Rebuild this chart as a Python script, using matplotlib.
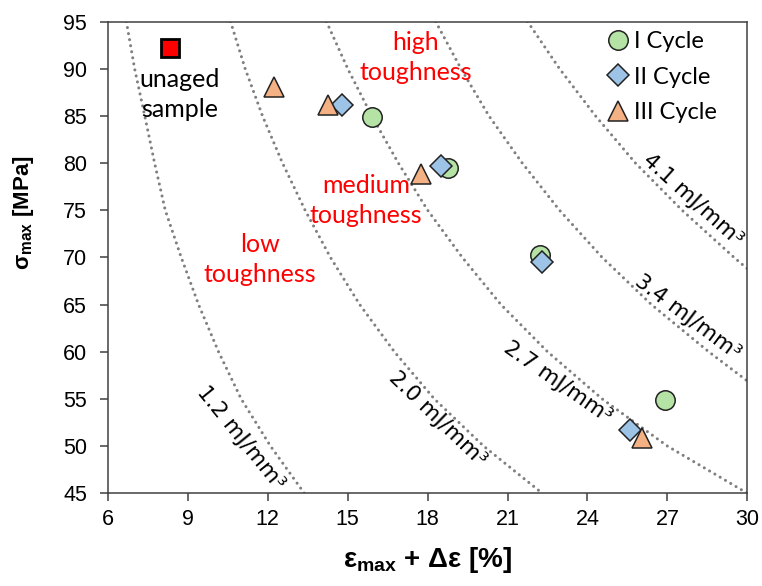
import matplotlib
matplotlib.use("Agg")
import matplotlib.pyplot as plt

# ---------------------------------------------------------------------------
# Data
# ---------------------------------------------------------------------------

cycle1_strain = [15.9, 18.75, 22.2, 26.9]
cycle1_stress = [84.9, 79.5, 70.3, 54.9]

cycle2_strain = [14.8, 18.5, 22.3, 25.6]
cycle2_stress = [86.1, 79.7, 69.5, 51.7]

cycle3_strain = [12.25, 14.25, 17.75, 26.05]
cycle3_stress = [88.1, 86.2, 78.8, 50.9]

unaged_strain = [8.34]
unaged_stress = [92.2]

# iso-toughness curves, digitised (strain %, stress MPa)
iso_12_strain = [6.69, 7.0, 7.38, 7.75, 8.15, 8.75, 9.4, 10.15, 11.0, 12.1, 13.37]
iso_12_stress = [95, 90, 85, 80, 75, 70, 65, 60, 55, 50, 45]

iso_20_strain = [10.6, 11.15, 11.8, 12.55, 13.4, 14.35, 15.45, 16.75, 18.25, 20.1, 22.3]
iso_20_stress = [95, 90, 85, 80, 75, 70, 65, 60, 55, 50, 45]

iso_27_strain = [14.2, 15.0, 15.9, 16.9, 18.0, 19.3, 20.75, 22.5, 24.55, 27.0, 30.0]
iso_27_stress = [95, 90, 85, 80, 75, 70, 65, 60, 55, 50, 45]

iso_34_strain = [18.3, 19.25, 20.3, 21.55, 22.95, 24.55, 26.4, 28.55, 30.0]
iso_34_stress = [95, 90, 85, 80, 75, 70, 65, 60, 56.9]

iso_41_strain = [21.75, 22.95, 24.3, 25.8, 27.55, 29.5, 30.0]
iso_41_stress = [95, 90, 85, 80, 75, 70, 68.8]

iso_labels = ["1.2 mJ/mm³", "2.0 mJ/mm³", "2.7 mJ/mm³", "3.4 mJ/mm³", "4.1 mJ/mm³"]

x_ticks = [6, 9, 12, 15, 18, 21, 24, 27, 30]
y_ticks = [45, 50, 55, 60, 65, 70, 75, 80, 85, 90, 95]

# ---------------------------------------------------------------------------
# Plot
# ---------------------------------------------------------------------------

TEXT_FONT = ["Lato", "DejaVu Sans"]
AXIS_COLOR = "#404040"
DOT_COLOR = "#7F7F7F"

plt.rcParams["font.family"] = ["Liberation Sans", "DejaVu Sans"]
plt.rcParams["mathtext.fontset"] = "custom"
plt.rcParams["mathtext.rm"] = "Liberation Sans"
plt.rcParams["mathtext.bf"] = "Liberation Sans:bold"

fig = plt.figure(figsize=(7.62, 5.86), dpi=100)
ax = fig.add_axes([0.1417, 0.1583, 0.8390, 0.8050])

curves = [
    (iso_12_strain, iso_12_stress),
    (iso_20_strain, iso_20_stress),
    (iso_27_strain, iso_27_stress),
    (iso_34_strain, iso_34_stress),
    (iso_41_strain, iso_41_stress),
]
for xs, ys in curves:
    ax.plot(xs, ys, color=DOT_COLOR, linewidth=2.2, linestyle=(0, (0.01, 2.0)),
            dash_capstyle="round", solid_joinstyle="round", zorder=1)

# curve labels: (x, y, rotation)
label_pos = [(11.0, 50.9, -51), (18.37, 52.9, -44), (22.9, 56.8, -35),
             (27.78, 63.65, -37), (27.97, 76.1, -42)]
for text, (lx, ly, rot) in zip(iso_labels, label_pos):
    ax.text(lx, ly, text, rotation=rot, rotation_mode="anchor", ha="center", va="center",
            fontsize=15.5, family=["DejaVu Sans"], color="black", zorder=2)

edge = "#222222"
ax.plot(cycle1_strain, cycle1_stress, "o", ms=14, mfc="#B5E2A5", mec=edge, mew=1.1,
        label="I Cycle", zorder=3)
ax.plot(cycle2_strain, cycle2_stress, "D", ms=11, mfc="#9DC3E6", mec=edge, mew=1.1,
        label="II Cycle", zorder=4)
ax.plot(cycle3_strain, cycle3_stress, "^", ms=14, mfc="#F4B183", mec=edge, mew=1.1,
        label="III Cycle", zorder=5)
ax.plot(unaged_strain, unaged_stress, "s", ms=13, mfc="#FF0000", mec="black", mew=2.0,
        zorder=5)

ax.text(8.69, 87.3, "unaged\nsample", ha="center", va="center", fontsize=18,
        family=TEXT_FONT, color="black", linespacing=1.38)
ax.text(17.55, 91.2, "high\ntoughness", ha="center", va="center", fontsize=18,
        family=TEXT_FONT, color="#FF0000", linespacing=1.38)
ax.text(15.69, 76.0, "medium\ntoughness", ha="center", va="center", fontsize=18,
        family=TEXT_FONT, color="#FF0000", linespacing=1.38)
ax.text(11.69, 69.8, "low\ntoughness", ha="center", va="center", fontsize=18,
        family=TEXT_FONT, color="#FF0000", linespacing=1.38)

ax.set_xlim(6, 30)
ax.set_ylim(45, 95)
ax.set_xticks(x_ticks)
ax.set_yticks(y_ticks)
ax.tick_params(axis="both", direction="out", length=6, width=1.1, color=AXIS_COLOR,
               labelsize=15.5, labelcolor="black")
ax.tick_params(axis="y", pad=9)
ax.tick_params(axis="x", pad=5)
for spine in ax.spines.values():
    spine.set_color(AXIS_COLOR)
    spine.set_linewidth(1.1)

ax.set_xlabel(r"ε$_{\mathbf{max}}$ + Δε [%]", fontsize=20, fontweight="bold")
ax.xaxis.set_label_coords(0.5, -0.11)
ax.set_ylabel(r"σ$_{\mathbf{max}}$ [MPa]", fontsize=16, fontweight="bold")
ax.yaxis.set_label_coords(-0.112, 0.595)

ax.legend(loc="upper right", bbox_to_anchor=(0.975, 1.01), frameon=False,
          prop={"family": TEXT_FONT, "size": 17}, handletextpad=0.1,
          labelspacing=0.62, borderaxespad=0.2, handlelength=1.2)

fig.savefig("out.png", dpi=100)
